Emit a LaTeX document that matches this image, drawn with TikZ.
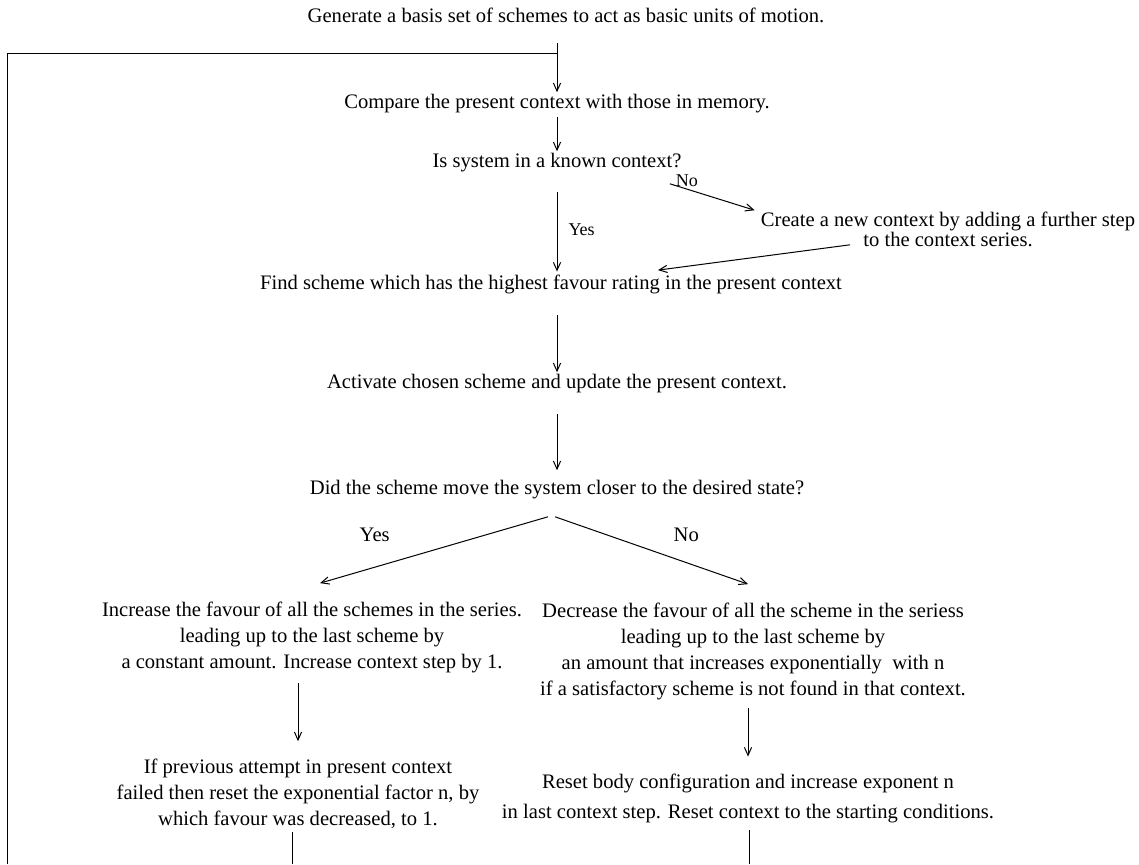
\documentclass[tikz,border=0pt]{standalone}
\usepackage{fontspec}
\setmainfont{Liberation Serif}
\usetikzlibrary{arrows.meta,positioning}
\tikzset{stage/.style={
    % The shape:
    rectangle,
    inner sep=0pt,
    % Font
    font=\fontsize{10.3}{13}\selectfont,
    align=center,
    },
    flow/.style={
    line width=0.5pt,
    -{Straight Barb[length=4pt,width=3.6pt]},
    shorten >=1pt,
    },
    link/.style={line width=0.5pt},
    answer/.style={font=\fontsize{10.3}{13}\selectfont,inner sep=0pt},
    smallanswer/.style={font=\fontsize{9}{11}\selectfont,inner sep=0pt},
}

\begin{document}
\begin{tikzpicture}[x=0.5pt,y=-0.5pt]
    \useasboundingbox (0,0) rectangle (1139,864);
    \node (gen)    [stage] at (566,15)  {Generate a basis set of schemes to act as basic units of motion.};
    \node (cmp)    [stage] at (557,104) {Compare the present context with those in memory.};
    \node (known)  [stage] at (557,163) {Is system in a known context?};
    \node (create) [stage,font=\fontsize{10.3}{10}\selectfont] at (948,229) {Create a new context by adding a further step\\to the context series.};
    \node (find)   [stage] at (551,284) {Find scheme which has the highest favour rating in the present context};
    \node (act)    [stage] at (557,384) {Activate chosen scheme and update the present context.};
    \node (did)    [stage] at (557,490) {Did the scheme move the system closer to the desired state?};
    \node (incr)   [stage] at (312,637) {Increase the favour of all the schemes in the series.\\leading up to the last scheme by\\a constant amount. Increase context step by 1.};
    \node (decr)   [stage] at (753,651) {Decrease the favour of all the scheme in the seriess\\leading up to the last scheme by\\an amount that increases exponentially\ \ with n\\if a satisfactory scheme is not found in that context.};
    \node (prev)   [stage] at (298,794) {If previous attempt in present context\\failed then reset the exponential factor n, by\\which favour was decreased, to 1.};
    \node (reset)  [stage] at (748,798) {Reset body configuration and increase exponent n\\[2pt]in last context step. Reset context to the starting conditions.};

    % loop back to the top
    \coordinate (loopjoin) at (557,53);
    \coordinate (loopend)  at (7,864);
    \coordinate (prevout)  at (292,864);
    \coordinate (resetout) at (749,864);

    \draw[flow,shorten <=10pt] (cmp.north |- gen.south) -- (cmp.north);
    \draw[link] (loopend) |- (loopjoin);
    \draw[flow,shorten <=1.5pt] (cmp.south) -- (known.north);
    \draw[flow,shorten <=9.5pt,shorten >=1.3pt] (known.south) -- (known.south |- find.north)
        node[smallanswer,pos=0.56,right=5.5pt] {Yes};
    \draw[flow,shorten >=0pt] ([xshift=-6pt,yshift=-5.5pt]known.south east) -- ([xshift=-3pt,yshift=0.5pt]create.north west)
        node[smallanswer,pos=0.2,above=1pt] {No};
    \draw[flow,shorten >=0pt] ([xshift=-49pt,yshift=1pt]create.south) -- ([xshift=53.5pt,yshift=2pt]find.north);
    \draw[flow,shorten <=10.5pt] (act.north |- find.south) -- (act.north);
    \draw[flow,shorten <=10pt,shorten >=5pt] (act.south) -- (did.north);
    \draw[flow,shorten >=0pt] ([xshift=-4.5pt,yshift=-8.5pt]did.south) -- ([xshift=4pt,yshift=9pt]incr.north)
        node[answer,pos=0.76,yshift=16pt] {Yes};
    \draw[flow,shorten >=0pt] ([xshift=-1pt,yshift=-8.5pt]did.south) -- ([xshift=-2.5pt,yshift=9pt]decr.north)
        node[answer,pos=0.68,yshift=14pt] {No};
    \draw[flow,shorten <=5pt,shorten >=8.8pt] (prev.north |- incr.south) -- (prev.north);
    \draw[link,shorten <=1.5pt] (prevout |- prev.south) -- (prevout);
    \draw[flow,shorten <=4pt,shorten >=8.3pt] (reset.north |- decr.south) -- (reset.north);
    \draw[link,shorten <=3.5pt] (resetout |- reset.south) -- (resetout);
\end{tikzpicture}
\end{document}
